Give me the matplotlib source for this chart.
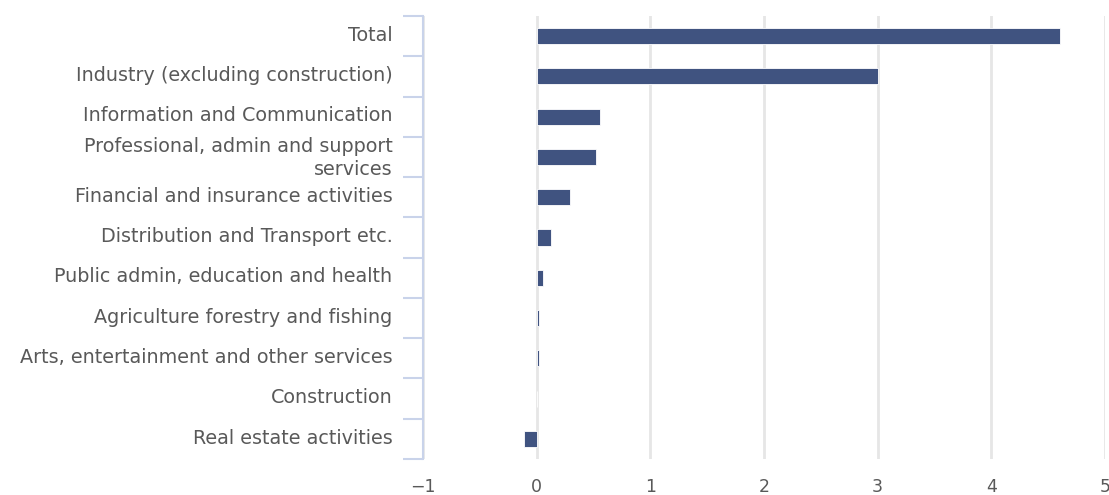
import matplotlib.pyplot as plt
import matplotlib.transforms as mtransforms
import numpy as np

categories = [
    "Total",
    "Industry (excluding construction)",
    "Information and Communication",
    "Professional, admin and support\nservices",
    "Financial and insurance activities",
    "Distribution and Transport etc.",
    "Public admin, education and health",
    "Agriculture forestry and fishing",
    "Arts, entertainment and other services",
    "Construction",
    "Real estate activities",
]
values = [4.60, 3.00, 0.56, 0.52, 0.29, 0.13, 0.06, 0.02, 0.02, 0.0, -0.11]
xticks = [-1, 0, 1, 2, 3, 4, 5]

bar_color = "#405380"
text_color = "#595959"
axis_color = "#c9d3ea"

plt.rcParams["font.family"] = ["DejaVu Sans"]

fig = plt.figure(figsize=(11.09, 4.95), dpi=100)
ax = fig.add_axes([423 / 1109, 1 - 459 / 495, 682 / 1109, 443 / 495])

y = np.arange(len(categories))
ax.barh(y, values, height=0.4, color=bar_color, edgecolor="white", linewidth=0.6, zorder=3)

ax.set_xlim(-1, 5)
ax.set_ylim(len(categories) - 0.5, -0.5)
ax.set_xticks(xticks)
ax.set_xticklabels([f"{t}".replace("-", "\u2212") for t in xticks])
ax.grid(axis="x", color="#e6e6e6", linewidth=2, zorder=0)
ax.set_axisbelow(True)

ax.set_yticks(y)
ax.set_yticklabels(categories, linespacing=1.25)
ax.set_yticks(np.arange(len(categories) + 1) - 0.5, minor=True)
ax.tick_params(axis="y", which="major", length=0, pad=22, labelsize=13.8, labelcolor=text_color)
ax.tick_params(axis="y", which="minor", length=14.5, width=1.5, color=axis_color)
ax.tick_params(axis="x", length=0, pad=14, labelsize=12.5, labelcolor=text_color)

# labels sit a touch above the band centres in the original
shift = mtransforms.ScaledTranslation(0, 2 / 72, fig.dpi_scale_trans)
for lab in ax.get_yticklabels():
    lab.set_transform(lab.get_transform() + shift)

for side in ["top", "right", "bottom"]:
    ax.spines[side].set_visible(False)
ax.spines["left"].set_color(axis_color)
ax.spines["left"].set_linewidth(1.5)

fig.savefig("out.png", dpi=100)
